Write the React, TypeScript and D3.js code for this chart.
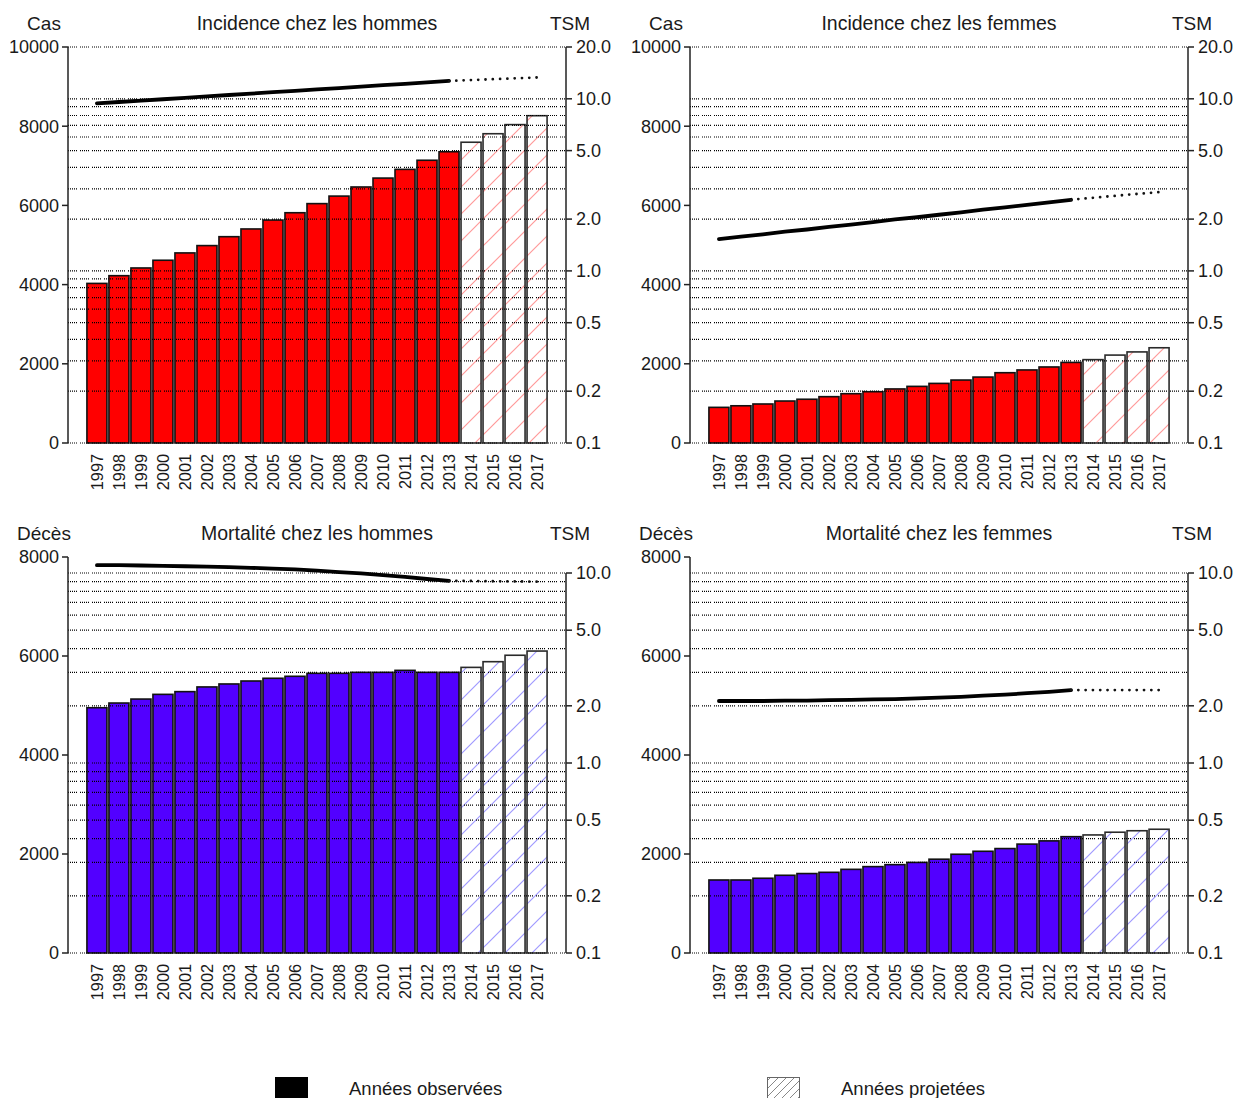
import React from 'react';
import * as d3 from 'd3';

const years = ['1997','1998','1999','2000','2001','2002','2003','2004','2005','2006','2007','2008','2009','2010','2011','2012','2013','2014','2015','2016','2017'];
const projectedYears = ['2014','2015','2016','2017'];

const incidenceMen = [4030, 4225, 4420, 4615, 4800, 4985, 5210, 5405, 5630, 5815, 6045, 6235, 6465, 6690, 6910, 7140, 7355, 7595, 7810, 8040, 8265];
const incidenceWomen = [900, 940, 985, 1060, 1105, 1170, 1245, 1295, 1365, 1430, 1505, 1590, 1665, 1775, 1845, 1920, 2035, 2105, 2220, 2300, 2405];
const mortalityMen = [4955, 5050, 5130, 5225, 5280, 5375, 5435, 5495, 5550, 5590, 5650, 5650, 5670, 5670, 5710, 5670, 5670, 5770, 5885, 6015, 6100];
const mortalityWomen = [1475, 1475, 1510, 1570, 1605, 1630, 1690, 1745, 1785, 1830, 1895, 1995, 2055, 2110, 2200, 2265, 2350, 2385, 2440, 2470, 2500];

const tsmIncMen = [9.4, 9.58, 9.76, 9.94, 10.13, 10.32, 10.52, 10.72, 10.92, 11.13, 11.34, 11.55, 11.77, 12.0, 12.22, 12.46, 12.7, 12.85, 13.0, 13.15, 13.3];
const tsmIncWomen = [1.53, 1.58, 1.63, 1.69, 1.74, 1.8, 1.86, 1.92, 1.99, 2.05, 2.12, 2.19, 2.27, 2.34, 2.42, 2.5, 2.59, 2.66, 2.73, 2.8, 2.87];
const tsmMortMen = [11.0, 11.0, 10.95, 10.9, 10.85, 10.8, 10.75, 10.65, 10.55, 10.45, 10.3, 10.1, 9.95, 9.75, 9.55, 9.3, 9.1, 9.08, 9.05, 9.03, 9.0];
const tsmMortWomen = [2.12, 2.12, 2.12, 2.13, 2.13, 2.14, 2.15, 2.16, 2.17, 2.19, 2.21, 2.23, 2.26, 2.29, 2.33, 2.37, 2.42, 2.42, 2.42, 2.42, 2.42];

const incidenceLeftTicks = [0, 2000, 4000, 6000, 8000, 10000];
const mortalityLeftTicks = [0, 2000, 4000, 6000, 8000];
const incidenceRightTicks = [0.1, 0.2, 0.5, 1, 2, 5, 10, 20];
const mortalityRightTicks = [0.1, 0.2, 0.5, 1, 2, 5, 10];
const incidenceGrid = [0.1, 0.2, 0.3, 0.4, 0.5, 0.6, 0.7, 0.8, 0.9, 1, 2, 3, 4, 5, 6, 7, 8, 9, 10, 20];
const mortalityGrid = [0.1, 0.2, 0.3, 0.4, 0.5, 0.6, 0.7, 0.8, 0.9, 1, 2, 3, 4, 5, 6, 7, 8, 9, 10];

const legendLabels = ['Années observées', 'Années projetées'];

const FONT = '"Liberation Sans", Arial, sans-serif';
const TXT = '#1a1a1a';
const GRID_DASH = '1 1 1 1 1 1 1 1 1 3';

type PanelProps = {
  ox: number; oy: number; title: string; leftLabel: string;
  values: number[]; tsm: number[]; leftMax: number; leftTicks: number[];
  rightMax: number; rightTop: number; rightTicks: number[]; grid: number[];
  color: string; hatchId: string;
};

function Panel(p: PanelProps) {
  const L = p.ox + 68, R = p.ox + 566;
  const top = p.oy + 47, bottom = p.oy + 443;
  const rTop = p.oy + p.rightTop;
  const x = d3.scaleBand<string>().domain(years).range([L, R]).paddingInner(0.09).paddingOuter(0.86);
  const yL = d3.scaleLinear().domain([0, p.leftMax]).range([bottom, top]);
  const yR = d3.scaleLog().domain([0.1, p.rightMax]).range([bottom, rTop]);
  const cx = (y: string) => (x(y) as number) + x.bandwidth() / 2;
  const line = d3.line<[string, number]>().x(d => cx(d[0])).y(d => yR(d[1]));
  const pts: [string, number][] = years.map((y, i) => [y, p.tsm[i]]);
  const nObs = years.length - projectedYears.length;
  const solid = pts.slice(0, nObs);
  const dotted = pts.slice(nObs - 1);
  return (
    <g>
      <text x={L - 24} y={p.oy + 30} textAnchor="middle" fontSize={19} fill={TXT}>{p.leftLabel}</text>
      <text x={(L + R) / 2} y={p.oy + 30} textAnchor="middle" fontSize={19.5} fill={TXT}>{p.title}</text>
      <text x={R + 4} y={p.oy + 30} textAnchor="middle" fontSize={19} fill={TXT}>TSM</text>
      {years.map((y, i) => {
        const proj = projectedYears.includes(y);
        const bx = x(y) as number, by = yL(p.values[i]);
        const h = bottom - by;
        return (
          <g key={y}>
            <rect x={bx} y={by} width={x.bandwidth()} height={h} fill={proj ? '#ffffff' : p.color} />
            {proj && <rect x={bx} y={by} width={x.bandwidth()} height={h} fill={`url(#${p.hatchId})`} />}
            <rect x={bx} y={by} width={x.bandwidth()} height={h} fill="none" stroke={proj ? '#2a2a2a' : '#111'} strokeWidth={1.6} />
          </g>
        );
      })}
      {p.grid.map(g => (
        <line key={g} x1={L} x2={R} y1={yR(g)} y2={yR(g)} stroke="#000" strokeWidth={1.2} strokeDasharray={GRID_DASH} />
      ))}
      <path d={line(solid) || ''} fill="none" stroke="#000" strokeWidth={3.8} strokeLinecap="round" />
      <path d={line(dotted) || ''} fill="none" stroke="#111" strokeWidth={2.8} strokeLinecap="round" strokeDasharray="0 7.3" />
      <line x1={L} x2={L} y1={top} y2={bottom} stroke="#222" strokeWidth={1.5} />
      {p.leftTicks.map(t => (
        <g key={t}>
          <line x1={L - 6} x2={L} y1={yL(t)} y2={yL(t)} stroke="#222" strokeWidth={1.5} />
          <text x={L - 9} y={yL(t)} dy="0.35em" textAnchor="end" fontSize={18} fill={TXT}>{t}</text>
        </g>
      ))}
      <line x1={R} x2={R} y1={rTop} y2={bottom} stroke="#222" strokeWidth={1.5} />
      {p.rightTicks.map(t => (
        <g key={t}>
          <line x1={R} x2={R + 6} y1={yR(t)} y2={yR(t)} stroke="#222" strokeWidth={1.5} />
          <text x={R + 10} y={yR(t)} dy="0.35em" textAnchor="start" fontSize={18} fill={TXT}>{t.toFixed(1)}</text>
        </g>
      ))}
      {years.map(y => (
        <text key={y} transform={`translate(${cx(y)},${bottom + 11}) rotate(-90)`} textAnchor="end" dy="0.36em" fontSize={16.3} fill={TXT}>{y}</text>
      ))}
    </g>
  );
}

function Hatch({ id, color, size, width }: { id: string; color: string; size: number; width: number }) {
  const s = size;
  return (
    <pattern id={id} patternUnits="userSpaceOnUse" width={s} height={s}>
      <path d={`M0,${s} L${s},0 M${-s / 4},${s / 4} L${s / 4},${-s / 4} M${s - s / 4},${s + s / 4} L${s + s / 4},${s - s / 4}`} stroke={color} strokeWidth={width} />
    </pattern>
  );
}

export default function App() {
  return (
    <svg width={1235} height={1098} style={{ position: 'absolute', left: 0, top: 0, display: 'block', background: '#fff' }} fontFamily={FONT}>
      <defs>
        <Hatch id="hatchRed" color="#ff9a9a" size={27} width={1.2} />
        <Hatch id="hatchBlue" color="#a09aff" size={27} width={1.2} />
        <Hatch id="hatchGray" color="#888" size={8} width={1} />
      </defs>
      <rect x={0} y={0} width={1235} height={1098} fill="#fff" />
      <Panel ox={0} oy={0} title="Incidence chez les hommes" leftLabel="Cas" values={incidenceMen} tsm={tsmIncMen}
        leftMax={10000} leftTicks={incidenceLeftTicks} rightMax={20} rightTop={47} rightTicks={incidenceRightTicks}
        grid={incidenceGrid} color="#ff0000" hatchId="hatchRed" />
      <Panel ox={622} oy={0} title="Incidence chez les femmes" leftLabel="Cas" values={incidenceWomen} tsm={tsmIncWomen}
        leftMax={10000} leftTicks={incidenceLeftTicks} rightMax={20} rightTop={47} rightTicks={incidenceRightTicks}
        grid={incidenceGrid} color="#ff0000" hatchId="hatchRed" />
      <Panel ox={0} oy={510} title="Mortalité chez les hommes" leftLabel="Décès" values={mortalityMen} tsm={tsmMortMen}
        leftMax={8000} leftTicks={mortalityLeftTicks} rightMax={10} rightTop={63} rightTicks={mortalityRightTicks}
        grid={mortalityGrid} color="#5200ff" hatchId="hatchBlue" />
      <Panel ox={622} oy={510} title="Mortalité chez les femmes" leftLabel="Décès" values={mortalityWomen} tsm={tsmMortWomen}
        leftMax={8000} leftTicks={mortalityLeftTicks} rightMax={10} rightTop={63} rightTicks={mortalityRightTicks}
        grid={mortalityGrid} color="#5200ff" hatchId="hatchBlue" />
      <g>
        <rect x={275} y={1077} width={33} height={33} fill="#000" />
        <text x={349} y={1095} fontSize={18.5} fill={TXT}>{legendLabels[0]}</text>
        <rect x={767} y={1077} width={33} height={33} fill="#fff" />
        <rect x={767} y={1077} width={33} height={33} fill="url(#hatchGray)" />
        <rect x={767.5} y={1077.5} width={32} height={32} fill="none" stroke="#666" strokeWidth={1} />
        <text x={841} y={1095} fontSize={18.5} fill={TXT}>{legendLabels[1]}</text>
      </g>
    </svg>
  );
}
